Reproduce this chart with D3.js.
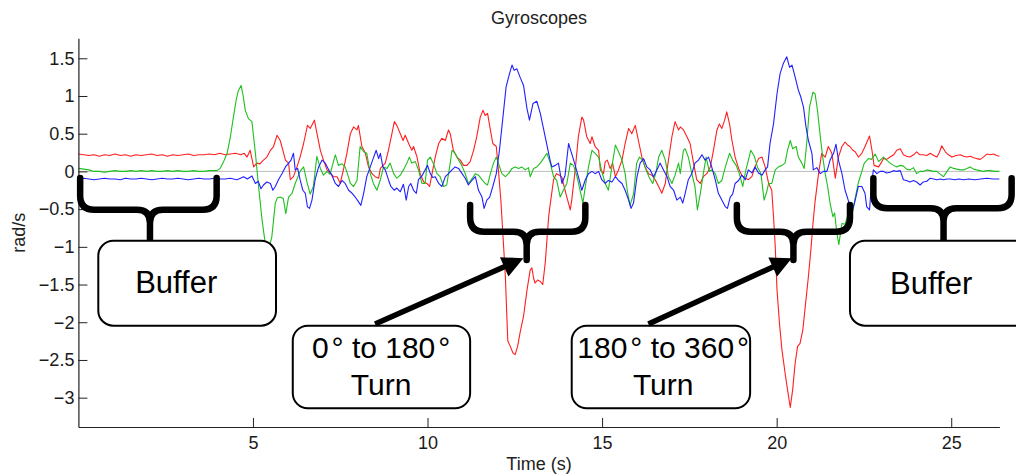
<!DOCTYPE html>
<html><head><meta charset="utf-8">
<script src="https://cdn.jsdelivr.net/npm/d3@7"></script>
<style>
body{margin:0;background:#fff}
svg{display:block}
text{font-family:"Liberation Sans",Arial,Helvetica,sans-serif}
</style>
</head><body>
<svg id="chart" width="1016" height="474"></svg>
<script>
// ---------------- data ----------------
const chartTitle = "Gyroscopes";
const xLabel = "Time (s)";
const yLabel = "rad/s";
const xTickValues = [5, 10, 15, 20, 25];
const yTickValues = [1.5, 1, 0.5, 0, -0.5, -1, -1.5, -2, -2.5, -3];
const seriesNames = ["x", "y", "z"];

// [time (s), angular rate (rad/s)]
const redSamples = [[0,0.23],[0.15,0.22],[0.3,0.21],[0.45,0.22],[0.6,0.2],[0.75,0.22],[0.9,0.21],[1.05,0.23],[1.2,0.21],[1.35,0.22],[1.5,0.2],[1.65,0.22],[1.8,0.21],[1.95,0.22],[2.1,0.23],[2.25,0.21],[2.4,0.22],[2.55,0.2],[2.7,0.22],[2.85,0.21],[3.0,0.22],[3.15,0.23],[3.3,0.21],[3.45,0.22],[3.6,0.22],[3.75,0.23],[3.9,0.22],[4.05,0.24],[4.2,0.22],[4.35,0.23],[4.5,0.24],[4.65,0.22],[4.75,0.24],[4.83,0.19],[4.92,0.28],[5.02,0.06],[5.11,0.11],[5.2,0.1],[5.3,0.15],[5.4,0.19],[5.5,0.28],[5.59,0.33],[5.69,0.48],[5.78,0.41],[5.88,0.24],[5.93,0.15],[6.02,0.11],[6.07,-0.11],[6.16,-0.07],[6.26,0.06],[6.35,0.19],[6.45,0.37],[6.56,0.61],[6.64,0.57],[6.76,0.68],[6.83,0.51],[6.93,0.28],[7.02,0.15],[7.12,0.02],[7.21,-0.02],[7.31,-0.07],[7.41,-0.07],[7.5,-0.16],[7.59,0.02],[7.69,0.24],[7.79,0.5],[7.88,0.59],[7.98,0.55],[8.02,0.61],[8.12,0.33],[8.22,0.24],[8.31,0.06],[8.41,-0.03],[8.5,-0.07],[8.6,-0.09],[8.65,0.04],[8.79,0.11],[8.88,0.28],[8.98,0.5],[9.05,0.66],[9.12,0.61],[9.22,0.5],[9.3,0.41],[9.36,0.48],[9.46,0.37],[9.55,0.28],[9.6,0.33],[9.7,0.19],[9.79,-0.03],[9.89,-0.14],[9.98,-0.16],[10.06,-0.2],[10.13,-0.03],[10.22,0.19],[10.32,0.37],[10.41,0.44],[10.51,0.41],[10.6,0.55],[10.65,0.5],[10.74,0.28],[10.84,0.19],[10.94,0.15],[11.03,0.08],[11.13,0.08],[11.22,0.13],[11.32,0.28],[11.41,0.46],[11.51,0.72],[11.59,0.81],[11.65,0.74],[11.72,0.77],[11.8,0.55],[11.87,0.37],[11.97,0.33],[12.03,0.02],[12.1,-0.38],[12.18,-1.0],[12.23,-1.4],[12.27,-1.9],[12.3,-2.25],[12.37,-2.32],[12.45,-2.41],[12.51,-2.43],[12.58,-2.32],[12.65,-2.14],[12.75,-1.92],[12.85,-1.57],[12.94,-1.31],[12.99,-1.28],[13.04,-1.42],[13.08,-1.48],[13.15,-1.44],[13.23,-1.46],[13.3,-1.5],[13.37,-1.22],[13.42,-0.91],[13.47,-0.6],[13.51,-0.45],[13.61,-0.11],[13.69,-0.03],[13.78,-0.05],[13.85,-0.08],[13.89,-0.16],[13.99,-0.34],[14.09,-0.51],[14.13,-0.38],[14.23,0.02],[14.32,0.46],[14.42,0.72],[14.47,0.68],[14.56,0.46],[14.66,0.37],[14.71,0.46],[14.8,0.33],[14.9,0.28],[14.95,0.02],[15.04,-0.03],[15.09,0.13],[15.15,0.15],[15.23,0.04],[15.3,0.11],[15.38,-0.07],[15.47,0.02],[15.57,0.15],[15.66,0.37],[15.76,0.57],[15.85,0.5],[15.95,0.61],[16.04,0.41],[16.14,0.19],[16.23,0.06],[16.33,-0.03],[16.43,-0.05],[16.52,-0.11],[16.62,-0.2],[16.71,-0.29],[16.81,-0.16],[16.9,0.15],[17.0,0.46],[17.09,0.66],[17.19,0.55],[17.24,0.59],[17.33,0.55],[17.43,0.46],[17.52,0.37],[17.62,0.11],[17.71,-0.11],[17.81,-0.16],[17.9,-0.07],[18.0,-0.03],[18.1,0.06],[18.19,0.28],[18.29,0.55],[18.36,0.63],[18.43,0.57],[18.51,0.68],[18.57,0.79],[18.65,0.63],[18.72,0.41],[18.81,0.19],[18.91,0.04],[19.0,-0.05],[19.1,-0.09],[19.19,-0.11],[19.29,-0.07],[19.38,0.06],[19.48,0.17],[19.58,0.19],[19.67,0.06],[19.77,-0.16],[19.86,-0.25],[19.91,-0.6],[19.96,-1.0],[20.01,-1.57],[20.08,-2.01],[20.15,-2.36],[20.24,-2.67],[20.31,-2.89],[20.39,-3.13],[20.46,-2.89],[20.53,-2.54],[20.6,-2.32],[20.67,-2.28],[20.75,-2.1],[20.82,-1.79],[20.91,-1.39],[20.98,-1.04],[21.04,-0.69],[21.1,-0.4],[21.2,-0.03],[21.29,0.24],[21.39,0.19],[21.48,0.33],[21.58,0.24],[21.68,-0.09],[21.77,0.19],[21.87,0.33],[21.96,0.39],[22.03,0.35],[22.1,0.33],[22.18,0.28],[22.25,0.26],[22.34,0.19],[22.44,0.24],[22.53,0.33],[22.66,0.47],[22.73,0.28],[22.79,0.08],[22.92,0.06],[23.0,0.12],[23.06,0.17],[23.15,0.16],[23.25,0.19],[23.35,0.22],[23.44,0.28],[23.54,0.3],[23.63,0.22],[23.72,0.2],[23.82,0.19],[23.92,0.22],[24.01,0.26],[24.1,0.22],[24.2,0.22],[24.3,0.21],[24.4,0.24],[24.5,0.21],[24.59,0.19],[24.66,0.25],[24.73,0.34],[24.83,0.26],[24.92,0.22],[25.02,0.19],[25.14,0.21],[25.26,0.22],[25.36,0.2],[25.45,0.19],[25.55,0.2],[25.64,0.18],[25.73,0.17],[25.83,0.16],[25.92,0.19],[26.02,0.23],[26.12,0.22],[26.21,0.23],[26.3,0.21],[26.38,0.2]];

const greenSamples = [[0,0.04],[0.15,0.03],[0.3,0.02],[0.45,0.0],[0.6,0.0],[0.75,-0.01],[0.9,0.0],[1.05,0.01],[1.2,0.0],[1.35,0.0],[1.5,0.01],[1.65,0.0],[1.8,0.01],[1.95,0.0],[2.1,0.01],[2.25,0.0],[2.4,0.0],[2.55,0.01],[2.7,0.0],[2.85,0.01],[3.0,0.0],[3.15,0.0],[3.3,0.01],[3.45,0.0],[3.6,0.0],[3.75,0.01],[3.9,0.01],[3.97,0.01],[4.06,0.04],[4.15,0.12],[4.26,0.24],[4.35,0.45],[4.44,0.72],[4.52,0.95],[4.58,1.07],[4.66,1.14],[4.72,1.0],[4.78,0.81],[4.87,0.7],[4.97,0.66],[5.07,0.24],[5.16,-0.2],[5.26,-0.64],[5.35,-0.95],[5.44,-1.05],[5.54,-0.87],[5.64,-0.42],[5.7,-0.35],[5.78,-0.34],[5.87,-0.36],[5.94,-0.56],[6.02,-0.34],[6.12,-0.29],[6.21,-0.16],[6.35,0.0],[6.45,0.06],[6.55,-0.15],[6.64,-0.3],[6.73,-0.2],[6.83,0.2],[6.93,0.04],[7.02,-0.05],[7.12,0.0],[7.21,-0.04],[7.31,0.14],[7.36,0.22],[7.45,0.08],[7.55,0.1],[7.64,0.06],[7.74,-0.08],[7.79,-0.16],[7.88,-0.2],[7.98,-0.12],[8.07,0.33],[8.17,0.26],[8.26,0.24],[8.36,-0.03],[8.45,-0.16],[8.55,-0.25],[8.65,-0.11],[8.74,0.06],[8.84,0.04],[8.93,0.11],[9.03,-0.03],[9.12,-0.09],[9.22,-0.05],[9.31,0.02],[9.41,0.11],[9.48,0.19],[9.55,0.11],[9.65,0.13],[9.74,0.02],[9.84,-0.16],[9.93,-0.16],[10.0,0.15],[10.08,0.19],[10.17,0.1],[10.27,-0.03],[10.36,-0.07],[10.46,-0.2],[10.55,-0.18],[10.65,0.11],[10.7,0.28],[10.79,0.24],[10.89,0.15],[10.98,0.08],[11.08,-0.03],[11.17,-0.16],[11.27,-0.1],[11.37,-0.03],[11.46,-0.05],[11.56,-0.11],[11.65,-0.16],[11.72,-0.18],[11.8,-0.03],[11.89,0.11],[11.97,0.19],[12.03,0.11],[12.13,-0.03],[12.23,-0.07],[12.32,-0.03],[12.42,0.04],[12.51,0.06],[12.61,0.04],[12.7,0.06],[12.8,0.02],[12.89,0.05],[12.94,-0.07],[13.04,0.04],[13.13,0.06],[13.23,0.11],[13.32,0.17],[13.42,0.24],[13.51,0.12],[13.61,-0.07],[13.7,-0.12],[13.8,-0.34],[13.89,-0.25],[13.99,-0.16],[14.09,0.11],[14.18,0.08],[14.28,-0.07],[14.37,-0.25],[14.45,-0.42],[14.52,-0.2],[14.61,0.06],[14.71,0.28],[14.8,0.24],[14.9,0.19],[14.99,0.0],[15.09,-0.16],[15.18,-0.25],[15.28,0.06],[15.38,0.35],[15.47,0.26],[15.57,0.15],[15.66,-0.03],[15.72,-0.25],[15.8,-0.45],[15.9,-0.3],[15.99,0.11],[16.07,0.19],[16.16,0.15],[16.26,0.02],[16.35,-0.08],[16.45,-0.16],[16.54,-0.02],[16.62,0.19],[16.71,0.28],[16.81,0.15],[16.9,-0.07],[17.0,-0.16],[17.09,-0.05],[17.19,0.11],[17.24,-0.03],[17.33,0.28],[17.38,0.3],[17.47,0.19],[17.57,-0.03],[17.66,-0.2],[17.73,-0.51],[17.81,-0.3],[17.9,-0.03],[17.98,0.19],[18.07,0.0],[18.14,0.02],[18.24,-0.03],[18.33,-0.16],[18.43,-0.12],[18.53,0.06],[18.65,0.24],[18.74,0.15],[18.84,0.08],[18.93,-0.03],[19.03,-0.2],[19.1,-0.02],[19.19,0.15],[19.26,0.28],[19.36,0.2],[19.45,0.06],[19.55,-0.03],[19.64,-0.38],[19.71,-0.28],[19.77,-0.16],[19.86,-0.16],[19.96,0.02],[20.05,0.06],[20.15,0.08],[20.24,0.11],[20.31,0.28],[20.39,0.41],[20.46,0.3],[20.56,0.33],[20.62,0.19],[20.72,0.11],[20.79,0.04],[20.86,0.37],[20.94,0.85],[21.04,1.05],[21.1,1.03],[21.17,0.81],[21.25,0.46],[21.32,0.19],[21.39,-0.03],[21.46,-0.2],[21.53,-0.42],[21.61,-0.6],[21.66,-0.55],[21.72,-0.8],[21.78,-0.97],[21.87,-0.69],[21.96,-0.7],[22.05,-0.56],[22.15,-0.6],[22.25,-0.35],[22.34,-0.15],[22.44,0.0],[22.51,0.11],[22.63,0.17],[22.72,0.16],[22.82,0.23],[22.92,0.13],[23.06,0.19],[23.15,0.15],[23.25,0.11],[23.35,0.08],[23.44,0.06],[23.54,0.08],[23.63,0.07],[23.72,0.03],[23.82,0.02],[23.92,0.05],[24.01,-0.03],[24.1,0.0],[24.2,0.0],[24.3,0.02],[24.4,0.01],[24.5,0.0],[24.59,0.0],[24.69,-0.04],[24.78,-0.07],[24.88,0.0],[24.97,0.06],[25.07,0.04],[25.16,0.03],[25.26,0.02],[25.35,0.02],[25.45,0.04],[25.54,0.06],[25.64,0.03],[25.73,0.02],[25.83,0.01],[25.92,0.0],[26.02,0.01],[26.11,0.01],[26.25,0.0],[26.38,0.0]];

const blueSamples = [[0,-0.1],[0.15,-0.09],[0.3,-0.1],[0.45,-0.11],[0.6,-0.1],[0.75,-0.09],[0.9,-0.1],[1.05,-0.1],[1.2,-0.11],[1.35,-0.09],[1.5,-0.1],[1.65,-0.1],[1.8,-0.09],[1.95,-0.1],[2.1,-0.11],[2.25,-0.1],[2.4,-0.09],[2.55,-0.1],[2.7,-0.1],[2.85,-0.09],[3.0,-0.1],[3.15,-0.11],[3.3,-0.1],[3.45,-0.09],[3.6,-0.1],[3.75,-0.1],[3.9,-0.09],[4.05,-0.1],[4.2,-0.1],[4.35,-0.09],[4.54,-0.11],[4.64,-0.09],[4.73,-0.07],[4.84,-0.1],[4.97,-0.06],[5.07,-0.16],[5.15,-0.13],[5.23,-0.23],[5.3,-0.18],[5.4,-0.14],[5.5,-0.16],[5.57,-0.25],[5.64,-0.2],[5.73,-0.11],[5.83,-0.03],[5.93,0.06],[6.02,0.11],[6.09,0.15],[6.16,0.24],[6.21,0.02],[6.28,0.04],[6.35,-0.11],[6.43,-0.25],[6.5,-0.29],[6.56,-0.47],[6.62,-0.49],[6.69,-0.38],[6.78,-0.11],[6.88,0.06],[6.98,0.15],[7.07,0.11],[7.17,0.02],[7.26,-0.05],[7.36,-0.16],[7.45,-0.2],[7.55,-0.12],[7.64,-0.16],[7.74,-0.25],[7.84,-0.29],[7.93,-0.34],[8.02,-0.4],[8.09,-0.45],[8.17,-0.29],[8.26,-0.07],[8.36,0.06],[8.45,0.18],[8.53,0.28],[8.6,0.17],[8.65,0.24],[8.72,0.06],[8.79,0.02],[8.88,-0.11],[8.95,-0.2],[9.05,-0.25],[9.12,-0.22],[9.22,-0.27],[9.31,-0.17],[9.39,-0.38],[9.46,-0.2],[9.52,-0.16],[9.6,-0.25],[9.68,-0.29],[9.74,-0.11],[9.84,-0.06],[9.93,0.02],[10.0,0.08],[10.08,-0.03],[10.15,-0.08],[10.22,-0.07],[10.32,-0.16],[10.41,-0.2],[10.51,-0.07],[10.6,-0.03],[10.7,0.02],[10.79,0.06],[10.89,0.04],[10.99,-0.03],[11.08,-0.09],[11.17,-0.18],[11.27,-0.12],[11.37,-0.07],[11.46,-0.25],[11.56,-0.34],[11.62,-0.49],[11.7,-0.38],[11.78,-0.34],[11.87,-0.2],[11.97,-0.03],[12.06,0.28],[12.16,0.72],[12.25,1.12],[12.35,1.3],[12.42,1.41],[12.48,1.34],[12.56,1.36],[12.65,1.25],[12.75,1.14],[12.85,0.83],[12.92,0.68],[13.02,0.9],[13.13,0.93],[13.23,0.77],[13.32,0.57],[13.42,0.35],[13.51,0.15],[13.56,0.06],[13.66,0.08],[13.75,0.11],[13.85,-0.16],[13.94,-0.05],[14.04,0.37],[14.1,0.28],[14.16,0.19],[14.23,0.08],[14.32,-0.07],[14.42,-0.25],[14.52,-0.11],[14.61,-0.03],[14.71,0.0],[14.8,-0.03],[14.9,0.0],[14.99,-0.11],[15.09,-0.16],[15.18,-0.12],[15.28,-0.14],[15.38,-0.07],[15.47,-0.12],[15.57,-0.16],[15.66,-0.25],[15.76,-0.38],[15.83,-0.49],[15.9,-0.42],[16.0,-0.07],[16.09,0.11],[16.19,0.17],[16.28,0.06],[16.38,0.02],[16.47,-0.07],[16.57,0.02],[16.66,0.11],[16.76,0.02],[16.86,-0.07],[16.95,-0.2],[17.05,-0.25],[17.14,-0.38],[17.24,-0.34],[17.31,-0.42],[17.38,-0.29],[17.47,-0.11],[17.57,-0.03],[17.66,0.11],[17.76,0.15],[17.86,0.22],[17.95,0.15],[18.05,0.19],[18.14,0.06],[18.24,-0.11],[18.33,-0.29],[18.43,-0.38],[18.53,-0.47],[18.59,-0.49],[18.67,-0.34],[18.74,-0.3],[18.81,-0.16],[18.91,-0.12],[19.0,-0.05],[19.1,-0.11],[19.19,0.02],[19.29,-0.02],[19.38,0.06],[19.48,-0.02],[19.58,-0.05],[19.67,0.02],[19.74,0.06],[19.81,0.37],[19.91,0.63],[20.01,1.03],[20.1,1.3],[20.19,1.43],[20.29,1.52],[20.37,1.38],[20.44,1.41],[20.53,1.25],[20.62,1.08],[20.69,0.99],[20.77,0.85],[20.84,0.59],[20.91,0.41],[21.01,0.24],[21.05,0.02],[21.15,0.05],[21.25,-0.03],[21.34,0.0],[21.44,0.0],[21.53,0.15],[21.63,0.24],[21.7,0.36],[21.77,0.15],[21.87,-0.03],[21.96,-0.25],[22.05,-0.38],[22.15,-0.56],[22.25,-0.38],[22.34,-0.2],[22.44,-0.2],[22.53,-0.29],[22.58,-0.47],[22.66,-0.51],[22.71,-0.2],[22.77,0.02],[22.87,-0.03],[22.96,0.0],[23.06,0.0],[23.15,-0.02],[23.25,-0.01],[23.35,0.01],[23.44,0.0],[23.54,0.01],[23.63,-0.11],[23.72,-0.12],[23.82,-0.14],[23.92,-0.12],[24.01,-0.14],[24.11,-0.18],[24.2,-0.14],[24.3,-0.13],[24.4,-0.09],[24.5,-0.1],[24.59,-0.11],[24.69,-0.1],[24.78,-0.11],[24.88,-0.1],[24.97,-0.1],[25.1,-0.11],[25.22,-0.1],[25.35,-0.11],[25.5,-0.1],[25.68,-0.11],[25.85,-0.1],[26.02,-0.09],[26.2,-0.1],[26.38,-0.1]];

// annotations (in data units: time, rad/s)
const braceSpecs = [
  {t1: 0.05, t2: 3.96, tc: 2.05, vTop: -0.088, vMid: -0.51, vTip: -0.92},
  {t1: 11.22, t2: 14.52, tc: 12.84, vTop: -0.446, vMid: -0.80, vTip: -1.175},
  {t1: 18.86, t2: 22.10, tc: 20.48, vTop: -0.446, vMid: -0.80, vTip: -1.175},
  {t1: 22.77, t2: 26.73, tc: 24.78, vTop: -0.091, vMid: -0.49, vTip: -0.93}
];
const boxSpecs = [
  {t1: 0.57, t2: 5.66, v1: -0.92, v2: -2.045},
  {t1: 6.14, t2: 11.22, v1: -2.046, v2: -3.141},
  {t1: 14.13, t2: 19.24, v1: -2.046, v2: -3.141},
  {t1: 22.10, t2: 27.6, v1: -0.92, v2: -2.045}
];
const arrowSpecs = [
  {t1: 8.498, v1: -2.023, t2: 12.746, v2: -1.152},
  {t1: 16.326, v1: -2.023, t2: 20.434, v2: -1.152}
];
const bufferLabels = [
  {text: "Buffer", t: 1.625, v: -1.608},
  {text: "Buffer", t: 23.25, v: -1.626}
];
const turnLabels = [
  {from: "0", to: "180", t: 8.67, v1: -2.478, v2: -2.965},
  {from: "180", to: "360", t: 16.75, v1: -2.478, v2: -2.965}
];

// ---------------- drawing ----------------
const svg = d3.select("#chart");
const x = d3.scaleLinear().domain([0, 26.38]).range([78.4, 999.4]);
const y = d3.scaleLinear().domain([-3.389, 1.765]).range([427, 38.3]);

// zero reference line
svg.append("line")
  .attr("x1", x(0)).attr("x2", x(26.38))
  .attr("y1", y(0)).attr("y2", y(0))
  .attr("stroke", "#bdbdbd").attr("stroke-width", 1);

const line = d3.line().x(d => x(d[0])).y(d => y(d[1]));
const series = [
  {name: seriesNames[0], data: redSamples, color: "#ff1f1f"},
  {name: seriesNames[1], data: greenSamples, color: "#1fbf1f"},
  {name: seriesNames[2], data: blueSamples, color: "#2020ff"}
];
svg.append("g").selectAll("path").data(series).join("path")
  .attr("d", d => line(d.data))
  .attr("fill", "none")
  .attr("stroke", d => d.color)
  .attr("stroke-width", 1.1)
  .attr("stroke-linejoin", "round");

// axes
const axisColor = "#222";
const fontSize = "18px";
const gx = svg.append("g").attr("transform", `translate(0,${y.range()[0]})`)
  .call(d3.axisBottom(x).tickValues(xTickValues).tickSize(-9).tickSizeOuter(0).tickPadding(9).tickFormat(d3.format("~g")));
const gy = svg.append("g").attr("transform", `translate(${x.range()[0]},0)`)
  .call(d3.axisLeft(y).tickValues(yTickValues).tickSize(-9).tickSizeOuter(0).tickPadding(4).tickFormat(d3.format("~g")));
[gx, gy].forEach(g => {
  g.select(".domain").attr("stroke", axisColor).attr("stroke-width", 1.2);
  g.selectAll(".tick line").attr("stroke", axisColor).attr("stroke-width", 1);
  g.selectAll(".tick text").attr("fill", "#1a1a1a").style("font-size", fontSize)
    .style("font-family", '"Liberation Sans", Arial, sans-serif');
});

// titles
svg.append("text").attr("x", 539).attr("y", 24).attr("text-anchor", "middle")
  .style("font-size", fontSize).attr("fill", "#222").text(chartTitle);
svg.append("text").attr("x", 539).attr("y", 470).attr("text-anchor", "middle")
  .style("font-size", fontSize).attr("fill", "#222").text(xLabel);
svg.append("text").attr("transform", `translate(25,${(y.range()[0] + y.range()[1]) / 2}) rotate(-90)`)
  .attr("text-anchor", "middle").style("font-size", fontSize).attr("fill", "#222").text(yLabel);

// braces
function bracePath(b) {
  const x1 = x(b.t1), x2 = x(b.t2), xc = x(b.tc);
  const yT = y(b.vTop), yM = y(b.vMid), yP = y(b.vTip);
  const r = 14, r2 = 13;
  return `M${x1},${yT} V${yM - r} Q${x1},${yM} ${x1 + r},${yM} H${xc - r2} Q${xc},${yM} ${xc},${yM + r2} V${yP}` +
         `M${x2},${yT} V${yM - r} Q${x2},${yM} ${x2 - r},${yM} H${xc + r2} Q${xc},${yM} ${xc},${yM + r2} V${yP}`;
}
const ann = svg.append("g");
ann.selectAll("path.brace").data(braceSpecs).join("path")
  .attr("class", "brace")
  .attr("d", bracePath)
  .attr("fill", "none").attr("stroke", "#000").attr("stroke-width", 6.5)
  .attr("stroke-linecap", "round").attr("stroke-linejoin", "round");

// boxes
ann.selectAll("rect.box").data(boxSpecs).join("rect")
  .attr("class", "box")
  .attr("x", d => x(d.t1)).attr("y", d => y(d.v1))
  .attr("width", d => x(d.t2) - x(d.t1)).attr("height", d => y(d.v2) - y(d.v1))
  .attr("rx", 15).attr("ry", 15)
  .attr("fill", "#fff").attr("stroke", "#000").attr("stroke-width", 2);

// arrows
arrowSpecs.forEach(a => {
  const xs = x(a.t1), ys = y(a.v1), xe = x(a.t2), ye = y(a.v2);
  const dx = xe - xs, dy = ye - ys, len = Math.hypot(dx, dy);
  const ux = dx / len, uy = dy / len, px = -uy, py = ux;
  const hl = 21, hw = 10.5;
  const bx = xe - ux * hl, by = ye - uy * hl;
  ann.append("line").attr("x1", xs).attr("y1", ys).attr("x2", bx + ux * 2).attr("y2", by + uy * 2)
    .attr("stroke", "#000").attr("stroke-width", 5.5);
  ann.append("path")
    .attr("d", `M${xe},${ye} L${bx + px * hw},${by + py * hw} L${bx - px * hw},${by - py * hw} Z`)
    .attr("fill", "#000");
});

// labels
ann.selectAll("text.buf").data(bufferLabels).join("text")
  .attr("class", "buf")
  .attr("x", d => x(d.t)).attr("y", d => y(d.v))
  .style("font-size", "31px").attr("fill", "#000").text(d => d.text);

turnLabels.forEach(l => {
  const t1 = ann.append("text").attr("x", x(l.t)).attr("y", y(l.v1))
    .attr("text-anchor", "middle").style("font-size", "30px").attr("fill", "#000");
  t1.append("tspan").text(l.from);
  t1.append("tspan").attr("dx", 3).text("°");
  t1.append("tspan").text(" to " + l.to);
  t1.append("tspan").attr("dx", 3).text("°");
  ann.append("text").attr("x", x(l.t)).attr("y", y(l.v2))
    .attr("text-anchor", "middle").style("font-size", "30px").attr("fill", "#000").text("Turn");
});
</script>
</body></html>
